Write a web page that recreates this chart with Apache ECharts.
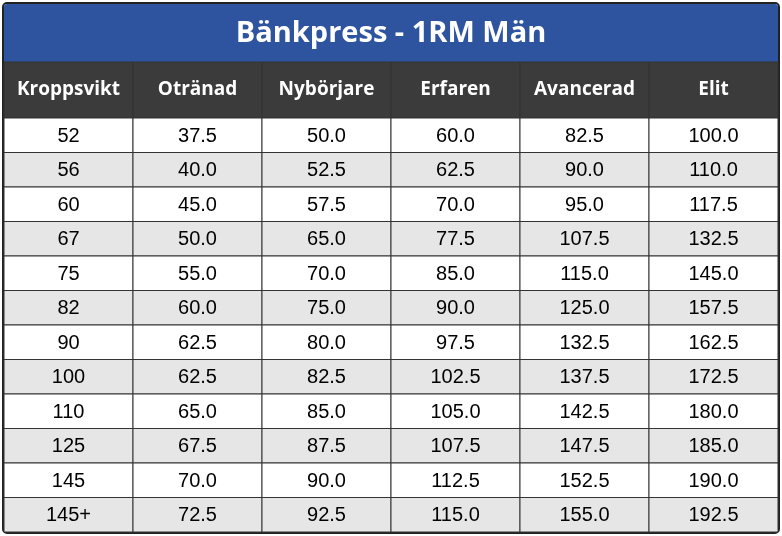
<!DOCTYPE html>
<html><head><meta charset="utf-8">
<script src="https://cdn.jsdelivr.net/npm/echarts@6/dist/echarts.min.js"></script>
<style>html,body{margin:0;padding:0;background:#fff}#c{width:782px;height:536px}</style>
</head><body><div id="c"></div>
<script>
const titleText = 'Bänkpress - 1RM Män';
const headers = ['Kroppsvikt','Otränad','Nybörjare','Erfaren','Avancerad','Elit'];
const bodyweight = ['52','56','60','67','75','82','90','100','110','125','145','145+'];
const untrained = [37.5,40.0,45.0,50.0,55.0,60.0,62.5,62.5,65.0,67.5,70.0,72.5];
const novice = [50.0,52.5,57.5,65.0,70.0,75.0,80.0,82.5,85.0,87.5,90.0,92.5];
const intermediate = [60.0,62.5,70.0,77.5,85.0,90.0,97.5,102.5,105.0,107.5,112.5,115.0];
const advanced = [82.5,90.0,95.0,107.5,115.0,125.0,132.5,137.5,142.5,147.5,152.5,155.0];
const elite = [100.0,110.0,117.5,132.5,145.0,157.5,162.5,172.5,180.0,185.0,190.0,192.5];

const cols = [bodyweight, untrained, novice, intermediate, advanced, elite];
const rows = ['h'].concat(bodyweight.map((_, i) => 'r' + i));
const data = [];
headers.forEach((h, c) => data.push([c, 0, h]));
cols.forEach((arr, c) => arr.forEach((v, r) => data.push([c, r + 1, c === 0 ? v : v.toFixed(1)])));

const chart = echarts.init(document.getElementById('c'));
chart.setOption({
  animation: false,
  graphic: [
    {type:'rect', shape:{x:3,y:3,width:776,height:530,r:4}, style:{fill:'#fff',stroke:'#222',lineWidth:2}, z:-10},
    {type:'rect', shape:{x:4,y:4,width:774,height:58,r:[3,3,0,0]}, style:{fill:'#2e54a0'}, z:-5}
  ],
  title: {text: titleText, left: 'center', top: 14,
    textStyle:{color:'#fff', fontSize:29, fontWeight:'bold', fontFamily:'Open Sans'}},
  grid: {left: 4, right: 4, top: 62, bottom: 4},
  xAxis: {type:'category', data: headers, show:false},
  yAxis: {type:'category', data: rows, inverse:true, show:false},
  series: [{
    type:'custom',
    data: data,
    renderItem: function (params, api) {
      const c = api.value(0), r = api.value(1);
      const p = api.coord([c, r]);
      const s = api.size([1, 1]);
      const isH = r === 0;
      const hTop = 62, hH = 56;
      let y0, h;
      const dataH = (536 - 4 - hTop - hH) / 12;
      if (isH) { y0 = hTop; h = hH; } else { y0 = hTop + hH + (r - 1) * dataH; h = dataH; }
      const x0 = p[0] - s[0] / 2, w = s[0];
      const fill = isH ? '#3b3b3b' : (r % 2 === 1 ? '#ffffff' : '#e6e6e6');
      return {type:'group', children:[
        {type:'rect', shape:{x:x0, y:y0, width:w, height:h}, style:{fill:fill, stroke:'#333', lineWidth:1}},
        {type:'text', style:{x:x0 + w/2, y:y0 + h/2 + (isH?0:1), text:api.value(2), align:'center', verticalAlign:'middle',
          fill: isH ? '#fff' : '#000', font: isH ? 'bold 19px "Open Sans"' : '20px "Liberation Sans"'}}
      ]};
    }
  }]
});
</script></body></html>
